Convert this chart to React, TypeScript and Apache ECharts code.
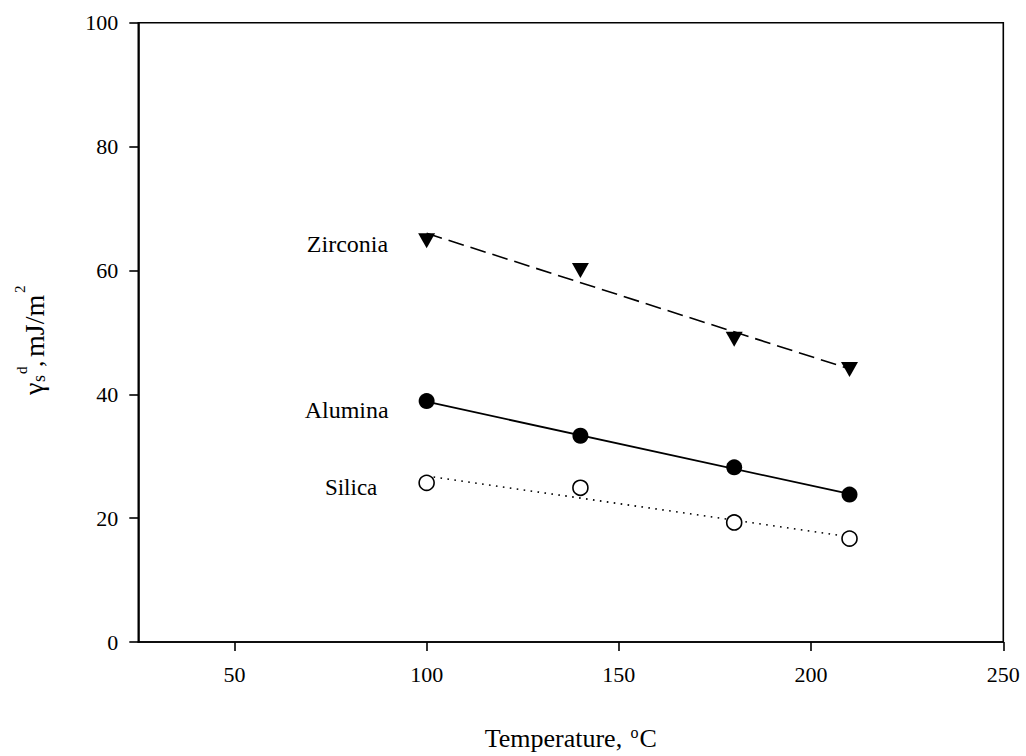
import React, { useEffect, useRef } from "react";
import * as echarts from "echarts";

// ---- data ----
const temperatures = [100, 140, 180, 210];
const zirconiaValues = [64.8, 60.0, 48.9, 44.0];
const aluminaValues = [38.9, 33.3, 28.2, 23.8];
const silicaValues = [25.7, 24.9, 19.3, 16.7];

// fitted (regression) line end points
const fitTemperatures = [100, 210];
const zirconiaFit = [66.0, 44.1];
const aluminaFit = [38.8, 23.9];
const silicaFit = [26.8, 17.0];

const seriesNames = ["Zirconia", "Alumina", "Silica"];
const xTickValues = [50, 100, 150, 200, 250];

const FONT = "'Liberation Serif', 'Times New Roman', serif";

function pairs(xs: number[], ys: number[]) {
  return xs.map((x, i) => [x, ys[i]]);
}

function withLabel(xs: number[], ys: number[], name: string, label: any) {
  return xs.map((x, i) =>
    i === 0
      ? { value: [x, ys[i]], label: { show: true, formatter: name, ...label } }
      : { value: [x, ys[i]] }
  );
}

const labelBase = {
  position: "left",
  color: "#000",
  opacity: 1,
  fontFamily: FONT,
  fontSize: 24,
};

export default function App() {
  const ref = useRef<HTMLDivElement>(null);

  useEffect(() => {
    if (!ref.current) return;
    const chart = echarts.init(ref.current, null, { renderer: "svg" });

    const yTitleChildren = [
      { type: "text", x: -56, y: -10, style: { text: "γ", font: `28px ${FONT}`, fill: "#000", align: "left", verticalAlign: "middle" } },
      { type: "text", x: -43, y: -4, style: { text: "s", font: `18px ${FONT}`, fill: "#000", align: "left", verticalAlign: "middle" } },
      { type: "text", x: -35, y: -21, style: { text: "d", font: `15px ${FONT}`, fill: "#000", align: "left", verticalAlign: "middle" } },
      { type: "text", x: -28, y: -9, style: { text: ",", font: `26px ${FONT}`, fill: "#000", align: "left", verticalAlign: "middle" } },
      { type: "text", x: -18, y: -9, style: { text: "mJ/m", font: `28px ${FONT}`, fill: "#000", align: "left", verticalAlign: "middle" } },
      { type: "text", x: 46, y: -23, style: { text: "2", font: `15px ${FONT}`, fill: "#000", align: "left", verticalAlign: "middle" } },
    ];

    chart.setOption({
      animation: false,
      backgroundColor: "#fff",
      grid: {
        left: 138.3,
        right: 22.7,
        top: 22.7,
        bottom: 110,
        show: true,
        borderColor: "#000",
        borderWidth: 1.6,
        backgroundColor: "transparent",
      },
      xAxis: {
        type: "value",
        min: 25,
        max: 250,
        splitLine: { show: false },
        axisLine: { show: true, onZero: false, lineStyle: { color: "#000", width: 1.6 } },
        axisTick: { show: true, inside: false, length: 9, customValues: xTickValues, lineStyle: { color: "#000", width: 1.6 } },
        axisLabel: { customValues: xTickValues, color: "#000", fontFamily: FONT, fontSize: 22, margin: 21 },
        name: "Temperature, {sup|o}C",
        nameLocation: "middle",
        nameGap: 82,
        nameTextStyle: {
          color: "#000",
          fontFamily: FONT,
          fontSize: 26,
          rich: {
            sup: { fontSize: 16, fontFamily: FONT, color: "#000", verticalAlign: "bottom", padding: [0, 1, 12, 2] },
          },
        },
      },
      yAxis: {
        type: "value",
        min: 0,
        max: 100,
        interval: 20,
        splitLine: { show: false },
        axisLine: { show: true, onZero: false, lineStyle: { color: "#000", width: 1.6 } },
        axisTick: { show: true, inside: false, length: 9, lineStyle: { color: "#000", width: 1.6 } },
        axisLabel: { color: "#000", fontFamily: FONT, fontSize: 22, margin: 20 },
      },
      graphic: [
        {
          type: "group",
          x: 43,
          y: 339,
          rotation: Math.PI / 2,
          children: yTitleChildren,
        },
      ],
      series: [
        {
          type: "line",
          name: seriesNames[0] + " fit",
          data: pairs(fitTemperatures, zirconiaFit),
          symbol: "none",
          lineStyle: { color: "#000", width: 1.6, type: [16, 7] },
          z: 1,
        },
        {
          type: "line",
          name: seriesNames[1] + " fit",
          data: pairs(fitTemperatures, aluminaFit),
          symbol: "none",
          lineStyle: { color: "#000", width: 1.8, type: "solid" },
          z: 1,
        },
        {
          type: "line",
          name: seriesNames[2] + " fit",
          data: pairs(fitTemperatures, silicaFit),
          symbol: "none",
          lineStyle: { color: "#000", width: 1.6, type: [1.6, 5.4] },
          z: 1,
        },
        {
          type: "scatter",
          name: seriesNames[0],
          data: withLabel(temperatures, zirconiaValues, seriesNames[0], { ...labelBase, distance: 30, offset: [0, 3] }),
          symbol: "triangle",
          symbolRotate: 180,
          symbolSize: [17, 15],
          itemStyle: { color: "#000", opacity: 1 },
          z: 3,
        },
        {
          type: "scatter",
          name: seriesNames[1],
          data: withLabel(temperatures, aluminaValues, seriesNames[1], { ...labelBase, distance: 30, offset: [0, 9] }),
          symbol: "circle",
          symbolSize: 16,
          itemStyle: { color: "#000", opacity: 1 },
          z: 3,
        },
        {
          type: "scatter",
          name: seriesNames[2],
          data: withLabel(temperatures, silicaValues, seriesNames[2], { ...labelBase, fontSize: 23, distance: 41, offset: [0, 5] }),
          symbol: "circle",
          symbolSize: 15,
          itemStyle: { color: "#fff", borderColor: "#000", borderWidth: 1.6, opacity: 1 },
          z: 3,
        },
      ],
    });

    return () => chart.dispose();
  }, []);

  return (
    <div
      ref={ref}
      style={{ position: "fixed", left: 0, top: 0, width: 1026, height: 756, background: "#fff" }}
    />
  );
}
